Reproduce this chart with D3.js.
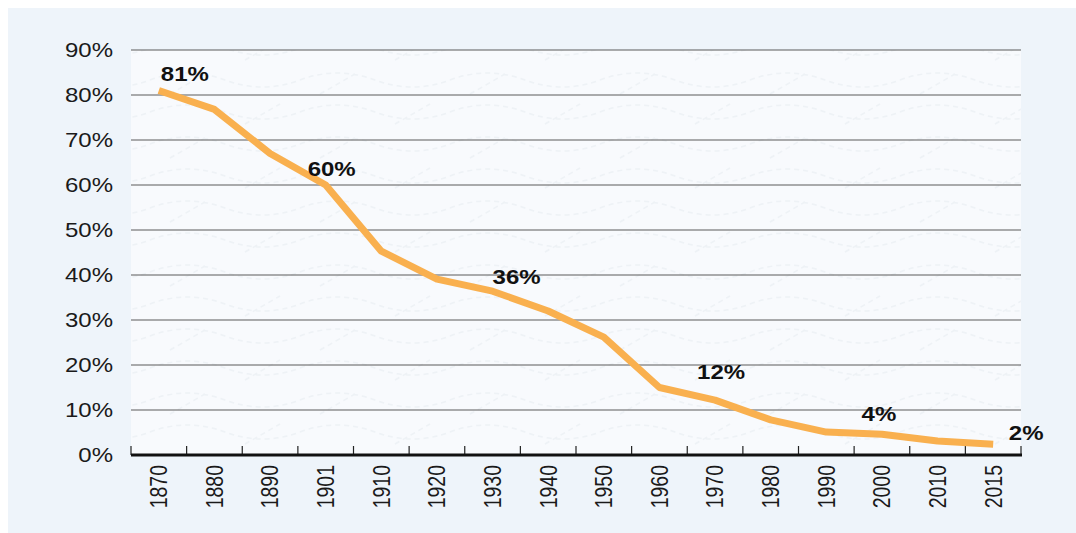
<!DOCTYPE html>
<html><head><meta charset="utf-8">
<script src="https://cdn.jsdelivr.net/npm/d3@7"></script>
<style>body{margin:0;background:#fff;}svg{display:block;font-family:"Liberation Sans",Arial,sans-serif;}</style>
</head><body>
<svg id="c" width="1076" height="533"></svg>
<script>
const years = ["1870","1880","1890","1901","1910","1920","1930","1940","1950","1960","1970","1980","1990","2000","2010","2015"];
const shares = [81, 76.8, 67, 60, 45.3, 39.1, 36.4, 32, 26.2, 15, 12.2, 7.8, 5.1, 4.6, 3.1, 2.4];
const yTicks = [0,10,20,30,40,50,60,70,80,90];
const labelYears = ["1870","1901","1930","1970","2000","2015"];
const labelTexts = ["81%","60%","36%","12%","4%","2%"];
const labelOffsets = [[26,-10],[6,-9],[24,-7],[6,-21],[-3,-13],[33,-4]];

const svg = d3.select("#c");
const L=131, R=1021, T=50, B=455;
const SX = 1.2;

svg.append("rect").attr("x",8).attr("y",8).attr("width",1068).attr("height",525).attr("fill","#eef4fa");

const defs = svg.append("defs");
const pat = defs.append("pattern").attr("id","wave").attr("patternUnits","userSpaceOnUse").attr("width",150).attr("height",64);
pat.append("rect").attr("width",150).attr("height",64).attr("fill","#f8fafd");
pat.append("path").attr("d","M0,16 Q37,2 75,16 T150,16 M0,48 Q37,34 75,48 T150,48 M20,30 L55,10 M95,60 L130,40")
  .attr("fill","none").attr("stroke","#eef2f6").attr("stroke-width",1.5).attr("stroke-dasharray","5 4");
svg.append("rect").attr("x",L).attr("y",T).attr("width",R-L).attr("height",B-T).attr("fill","url(#wave)");

const x = d3.scaleBand().domain(years).range([L,R]);
const y = d3.scaleLinear().domain([0,90]).range([B,T]);

// gridlines
svg.append("g").selectAll("line").data(yTicks.filter(d=>d>0)).join("line")
  .attr("x1",L).attr("x2",R).attr("y1",d=>y(d)).attr("y2",d=>y(d))
  .attr("stroke","#5a5a5a").attr("stroke-width",1);

// y labels
svg.append("g").selectAll("text").data(yTicks).join("text")
  .attr("transform",d=>`translate(113,${y(d)}) scale(${SX},1)`)
  .attr("dy","0.36em").attr("text-anchor","end")
  .attr("font-size",20).attr("fill","#1a1a1a").text(d=>d+"%");

// x axis
const xAxis = d3.axisBottom(x).tickSize(0).tickFormat(d=>d);
const gx = svg.append("g").attr("transform",`translate(0,${B})`).call(xAxis);
gx.select(".domain").remove();
gx.selectAll(".tick").attr("transform",d=>`translate(${x(d)+x.bandwidth()/2},0) scale(${SX},1)`);
gx.selectAll("text").attr("font-size",19.5).attr("fill","#1a1a1a")
  .attr("font-family","Liberation Sans, Arial, sans-serif")
  .attr("transform","rotate(-90)").attr("text-anchor","end").attr("x",-10).attr("y",0).attr("dy","0.36em");
// boundary ticks
const bounds = years.map(d=>x(d)).concat([x(years[years.length-1])+x.bandwidth()]);
svg.append("g").selectAll("line").data(bounds).join("line")
  .attr("x1",d=>d).attr("x2",d=>d).attr("y1",B-9).attr("y2",B).attr("stroke","#222").attr("stroke-width",1.2);
svg.append("line").attr("x1",L).attr("x2",R+1).attr("y1",B).attr("y2",B).attr("stroke","#111").attr("stroke-width",3);

// line
const pts = years.map((d,i)=>[x(d)+x.bandwidth()/2, y(shares[i])]);
svg.append("path").attr("d",d3.line()(pts)).attr("fill","none")
  .attr("stroke","#f9b04f").attr("stroke-width",7).attr("stroke-linejoin","round").attr("stroke-linecap","butt");

// labels
labelYears.forEach((yr,i)=>{
  const idx = years.indexOf(yr);
  const [px,py] = pts[idx];
  svg.append("text").attr("transform",`translate(${px+labelOffsets[i][0]},${py+labelOffsets[i][1]}) scale(${SX},1)`)
    .attr("text-anchor","middle").attr("font-size",20).attr("font-weight","bold").attr("fill","#111")
    .text(labelTexts[i]);
});
</script>
</body></html>
